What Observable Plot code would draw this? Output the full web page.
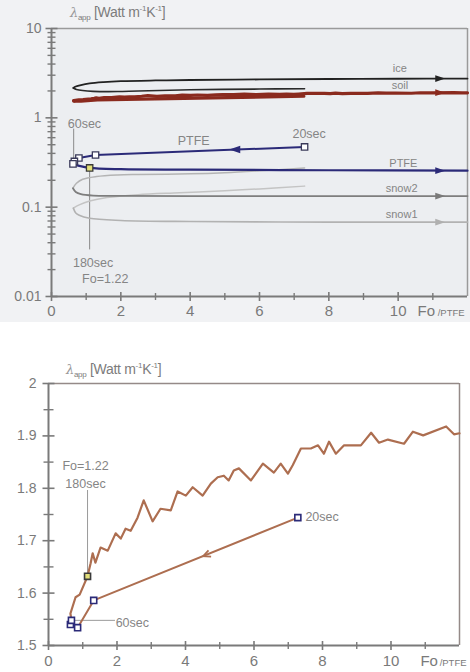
<!DOCTYPE html>
<html>
<head>
<meta charset="utf-8">
<script src="https://cdn.jsdelivr.net/npm/d3@7"></script>
<script src="https://cdn.jsdelivr.net/npm/@observablehq/plot@0.6"></script>
<style>
  body { margin: 0; background: #ffffff; font-family: "Liberation Sans", Arial, sans-serif; }
  #wrap { position: relative; width: 470px; height: 672px; overflow: hidden; background: #ffffff; }
  #top { position: absolute; left: 0; top: 0; }
  #bot { position: absolute; left: 0; top: 330px; }
  .ylab { position: absolute; font-size: 14px; color: #7c7c7c; white-space: nowrap; letter-spacing: -0.3px; }
  .ylab i { font-family: "DejaVu Serif", serif; font-size: 13px; color: #999; }
  .ylab sub { font-size: 8px; vertical-align: -3px; }
  .ylab sup { font-size: 8px; vertical-align: 6px; }
</style>
</head>
<body>
<div id="wrap">
  <div id="top"></div>
  <div id="bot"></div>
  <div class="ylab" style="left:70px; top:4px;"><i>λ</i><sub>app</sub> [Watt m<sup>-1</sup>K<sup>-1</sup>]</div>
  <div class="ylab" style="left:66px; top:361px;"><i>λ</i><sub>app</sub> [Watt m<sup>-1</sup>K<sup>-1</sup>]</div>
</div>
<script>
// ---------------- data ----------------
// soil (both panels): 20 s branch (towards smaller Fo) and 60 s branch (onwards)
const soil20 = [[7.28,1.744],[1.32,1.586],[0.85,1.534],[0.64,1.540],[0.67,1.548]];
const soil60 = [[0.67,1.548],[0.64,1.561],[0.79,1.592],[0.91,1.597],[1.14,1.632],[1.23,1.657],[1.29,1.676],[1.37,1.658],[1.52,1.687],[1.73,1.681],[1.96,1.714],[2.11,1.704],[2.25,1.723],[2.40,1.719],[2.60,1.744],[2.78,1.777],[3.04,1.737],[3.27,1.761],[3.57,1.758],[3.77,1.794],[4.01,1.786],[4.21,1.802],[4.50,1.786],[4.74,1.809],[4.94,1.821],[5.12,1.824],[5.26,1.815],[5.41,1.834],[5.56,1.838],[5.91,1.815],[6.26,1.847],[6.58,1.830],[6.78,1.847],[6.99,1.828],[7.13,1.844],[7.37,1.876],[7.66,1.876],[7.87,1.882],[8.04,1.866],[8.19,1.889],[8.39,1.866],[8.63,1.882],[9.12,1.882],[9.42,1.906],[9.65,1.887],[9.91,1.893],[10.38,1.885],[10.64,1.908],[10.94,1.901],[11.61,1.918],[11.84,1.903],[12.0,1.905]];
const soilSquares = [[7.28,1.744],[1.32,1.586],[0.85,1.534],[0.64,1.540],[0.67,1.548]];
const soil180 = [[1.14,1.632]];

// ice
const ice20 = [[7.3,2.12],[6,2.10],[4,2.06],[2.5,2.00],[1.9,1.97],[1.2,1.98],[0.9,2.02],[0.72,2.08],[0.63,2.16]];
const ice60 = [[0.63,2.16],[0.7,2.24],[0.85,2.33],[1.1,2.43],[1.5,2.51],[2,2.57],[3,2.62],[4,2.65],[6,2.69],[8,2.72],[10,2.74],[12,2.75]];
// PTFE
const ptfe20 = [[7.3,0.472],[1.27,0.384],[0.79,0.355],[0.66,0.325],[0.62,0.305]];
const ptfe60 = [[0.62,0.305],[0.8,0.29],[1.1,0.275],[2,0.266],[4,0.263],[8,0.259],[12,0.256]];
const ptfeSquares = [[7.3,0.472],[1.27,0.384],[0.79,0.355],[0.66,0.325],[0.62,0.305]];
const ptfe180 = [[1.1,0.275]];
// snow2
const snow2_20 = [[7.3,0.275],[6,0.255],[5,0.243],[4,0.236],[2.5,0.232],[1.9,0.229],[1.3,0.22],[0.9,0.205],[0.72,0.185],[0.62,0.163]];
const snow2_60 = [[0.62,0.163],[0.7,0.148],[0.85,0.140],[1.2,0.135],[2,0.134],[4,0.133],[8,0.133],[12,0.133]];
// snow1
const snow1_20 = [[7.3,0.172],[6,0.160],[5,0.153],[3.7,0.145],[2.5,0.138],[1.6,0.128],[1.1,0.117],[0.8,0.106],[0.63,0.0975]];
const snow1_60 = [[0.63,0.0975],[0.7,0.086],[0.8,0.081],[1.1,0.075],[2,0.071],[4,0.069],[8,0.068],[12,0.068]];

// arrows (Fo, value, colour)
const topArrowsRight = [[11.2,2.75,"#222222"],[11.2,1.91,"#8a2a1e"],[11.2,0.256,"#2b2a78"],[11.2,0.133,"#7a7a7a"],[11.2,0.068,"#b0b0b0"]];
const topArrowsLeft = [[5.3,0.443,"#2b2a78"]];
const botArrows = [[4.65,1.674]];

// ticks
const xMajor = [0,2,4,6,8,10];
const xMajorLabels = ["0","2","4","6","8","10"];
const xMinor = [1,3,5,7,9,11];
const yTopMajor = [0.01,0.1,1,10];
const yTopLabels = ["0.01","0.1","1","10"];
const yTopMinor = [];
for (const dec of [0.01,0.1,1]) for (let k = 2; k <= 9; k++) yTopMinor.push(dec*k);
const yBotMajor = [1.5,1.6,1.7,1.8,1.9,2];
const yBotLabels = ["1.5","1.6","1.7","1.8","1.9","2"];
const yBotMinor = [1.55,1.65,1.75,1.85,1.95];

// text annotations
const topLabelText = ["ice","soil","PTFE","snow2","snow1"];
const topLabelFo = [10.05,10.05,10.15,10.1,10.1];
const topLabelVal = [3.55,2.29,0.312,0.163,0.0834];
const topNotesMid = ["60sec","PTFE","180sec","Fo=1.22"];
const topNotesMidFo = [0.95,4.1,1.2,1.55];
const topNotesMidVal = [0.856,0.552,0.0235,0.0159];
const topNotesStart = ["20sec"];
const topNotesStartFo = [6.95];
const topNotesStartVal = [0.66];
const botNotesMid = ["Fo=1.22","180sec"];
const botNotesMidFo = [1.08,1.08];
const botNotesMidVal = [1.842,1.808];
const botNotesStart = ["60sec","20sec"];
const botNotesStartFo = [1.96,7.5];
const botNotesStartVal = [1.542,1.746];

// ---------------- helpers ----------------
const hTick = {draw(ctx, size) { const r = Math.sqrt(size / Math.PI); ctx.moveTo(-r, 0); ctx.lineTo(r, 0); }};
const vTick = {draw(ctx, size) { const r = Math.sqrt(size / Math.PI); ctx.moveTo(0, -r); ctx.lineTo(0, r); }};
const arrowR = {draw(ctx, size) { const r = Math.sqrt(size / Math.PI); ctx.moveTo(r*1.2, 0); ctx.lineTo(-r, -r*0.75); ctx.lineTo(-r, r*0.75); ctx.closePath(); }};
const arrowL = {draw(ctx, size) { const r = Math.sqrt(size / Math.PI); ctx.moveTo(-r*1.2, 0); ctx.lineTo(r, -r*0.75); ctx.lineTo(r, r*0.75); ctx.closePath(); }};
const chevronDL = {draw(ctx, size) {
  const r = Math.sqrt(size / Math.PI);
  const a = (180 - 22) * Math.PI / 180;
  const tx = Math.cos(a) * r, ty = Math.sin(a) * r;
  const back = (ang) => [tx - r*1.6*Math.cos(a + ang), ty - r*1.6*Math.sin(a + ang)];
  const [ax, ay] = back(0.45), [bx, by] = back(-0.45);
  ctx.moveTo(ax, ay); ctx.lineTo(tx, ty); ctx.lineTo(bx, by);
}};
const X = d => d[0], Y = d => d[1];
const AX = "#7a7a7a";
const TXT = "#858585";

// ---------------- top panel ----------------
const topPlot = Plot.plot({
  width: 470, height: 322,
  marginLeft: 51, marginRight: 3, marginTop: 28, marginBottom: 26,
  x: {domain: [0, 12], axis: null},
  y: {type: "log", domain: [0.01, 10], axis: null},
  style: {background: "#f1f2f4", fontFamily: "Liberation Sans, Arial, sans-serif", overflow: "visible"},
  marks: [
    Plot.frame({fill: "#eceef1", stroke: "none"}),
    Plot.ruleY([10], {stroke: "#9a9a9a", strokeWidth: 1.5}),
    Plot.ruleX([12], {stroke: "#9a9a9a", strokeWidth: 1.5}),
    // annotation leader lines
    Plot.line([[0.64, 0.75], [0.64, 0.33]], {x: X, y: Y, stroke: "#8a8a8a", strokeWidth: 1}),
    Plot.line([[1.1, 0.275], [1.1, 0.034]], {x: X, y: Y, stroke: "#8a8a8a", strokeWidth: 1}),
    // snow1
    Plot.line(snow1_20, {x: X, y: Y, stroke: "#c4c4c4", strokeWidth: 1.5, curve: "catmull-rom"}),
    Plot.line(snow1_60, {x: X, y: Y, stroke: "#b2b2b2", strokeWidth: 1.6, curve: "catmull-rom"}),
    // snow2
    Plot.line(snow2_20, {x: X, y: Y, stroke: "#b4b4b4", strokeWidth: 1.5, curve: "catmull-rom"}),
    Plot.line(snow2_60, {x: X, y: Y, stroke: "#7e7e7e", strokeWidth: 1.8, curve: "catmull-rom"}),
    // soil
    Plot.line(soil20, {x: X, y: Y, stroke: "#8a2a1e", strokeWidth: 3.2}),
    Plot.line(soil60, {x: X, y: Y, stroke: "#8a2a1e", strokeWidth: 3.2}),
    // ice
    Plot.line(ice20, {x: X, y: Y, stroke: "#2a2a2a", strokeWidth: 1.6, curve: "catmull-rom"}),
    Plot.line(ice60, {x: X, y: Y, stroke: "#222222", strokeWidth: 1.8, curve: "catmull-rom"}),
    // PTFE
    Plot.line(ptfe20, {x: X, y: Y, stroke: "#2b2a78", strokeWidth: 2}),
    Plot.line(ptfe60, {x: X, y: Y, stroke: "#2b2a78", strokeWidth: 2.2, curve: "catmull-rom"}),
    Plot.dot(ptfeSquares, {x: X, y: Y, symbol: "square", r: 3.6, fill: "#ffffff", stroke: "#3a3a5a", strokeWidth: 1.3}),
    Plot.dot(ptfe180, {x: X, y: Y, symbol: "square", r: 3.6, fill: "#e2df7a", stroke: "#3a3a3a", strokeWidth: 1.3}),
    // arrows
    Plot.dot(topArrowsRight, {x: X, y: Y, symbol: arrowR, r: 4.5, fill: d => d[2], stroke: "none"}),
    Plot.dot(topArrowsLeft, {x: X, y: Y, symbol: arrowL, r: 5, fill: d => d[2], stroke: "none"}),
    // axes
    Plot.ruleX([0], {stroke: AX, strokeWidth: 2}),
    Plot.ruleY([0.01], {stroke: AX, strokeWidth: 2}),
    Plot.dot(yTopMinor, {x: () => 0, y: d => d, symbol: hTick, r: 4, stroke: AX, strokeWidth: 1.4}),
    Plot.dot(yTopMajor, {x: () => 0, y: d => d, symbol: hTick, r: 6, stroke: AX, strokeWidth: 1.6}),
    Plot.text(yTopMajor, {x: () => 0, y: d => d, text: (d, i) => yTopLabels[i], dx: -10, textAnchor: "end", fill: "#7a7a7a", fontSize: 14}),
    Plot.dot(xMinor, {x: d => d, y: () => 0.01, symbol: vTick, r: 3.5, stroke: AX, strokeWidth: 1.4}),
    Plot.dot(xMajor, {x: d => d, y: () => 0.01, symbol: vTick, r: 4.5, stroke: AX, strokeWidth: 1.6}),
    Plot.text(xMajor, {x: d => d, y: () => 0.01, text: (d, i) => xMajorLabels[i], dy: 15, fill: "#7a7a7a", fontSize: 15}),
    Plot.text(["Fo"], {x: () => 10.56, y: () => 0.01, text: d => d, dy: 15, textAnchor: "start", fill: "#7a7a7a", fontSize: 15}),
    Plot.text(["/PTFE"], {x: () => 11.14, y: () => 0.01, text: d => d, dy: 16, textAnchor: "start", fill: "#7a7a7a", fontSize: 9.5}),
    // labels
    Plot.text(topLabelText, {x: (d, i) => topLabelFo[i], y: (d, i) => topLabelVal[i], text: d => d, fill: TXT, fontSize: 11}),
    Plot.text(topNotesMid, {x: (d, i) => topNotesMidFo[i], y: (d, i) => topNotesMidVal[i], text: d => d, textAnchor: "middle", fill: TXT, fontSize: 12.5}),
    Plot.text(topNotesStart, {x: (d, i) => topNotesStartFo[i], y: (d, i) => topNotesStartVal[i], text: d => d, textAnchor: "start", fill: TXT, fontSize: 12.5})
  ]
});
document.getElementById("top").appendChild(topPlot);

// ---------------- bottom panel ----------------
const botPlot = Plot.plot({
  width: 470, height: 342,
  marginLeft: 48, marginRight: 11, marginTop: 53, marginBottom: 27,
  x: {domain: [0, 12], axis: null},
  y: {domain: [1.5, 2], axis: null},
  style: {background: "#ffffff", fontFamily: "Liberation Sans, Arial, sans-serif", overflow: "visible"},
  marks: [
    Plot.ruleY([2], {stroke: "#958a88", strokeWidth: 1.5}),
    Plot.ruleX([12], {stroke: "#958a88", strokeWidth: 1.5}),
    // leaders
    Plot.line([[1.14, 1.632], [1.14, 1.796]], {x: X, y: Y, stroke: "#9a9a9a", strokeWidth: 1}),
    Plot.line([[0.72, 1.548], [1.93, 1.548]], {x: X, y: Y, stroke: "#9a9a9a", strokeWidth: 1}),
    Plot.line(soil20, {x: X, y: Y, stroke: "#ad6e50", strokeWidth: 2}),
    Plot.line(soil60, {x: X, y: Y, stroke: "#ad6e50", strokeWidth: 2.2}),
    Plot.dot(botArrows, {x: X, y: Y, symbol: chevronDL, r: 5, stroke: "#ad6e50", strokeWidth: 1.8, fill: "none"}),
    Plot.dot(soilSquares, {x: X, y: Y, symbol: "square", r: 3.4, fill: "#ffffff", stroke: "#2b2a78", strokeWidth: 1.6}),
    Plot.dot(soil180, {x: X, y: Y, symbol: "square", r: 3.4, fill: "#e2df7a", stroke: "#3a3a3a", strokeWidth: 1.6}),
    // axes
    Plot.ruleX([0], {stroke: AX, strokeWidth: 2}),
    Plot.ruleY([1.5], {stroke: AX, strokeWidth: 2}),
    Plot.dot(yBotMinor, {x: () => 0, y: d => d, symbol: hTick, r: 5, stroke: AX, strokeWidth: 1.4}),
    Plot.dot(yBotMajor, {x: () => 0, y: d => d, symbol: hTick, r: 6, stroke: AX, strokeWidth: 1.6}),
    Plot.text(yBotMajor, {x: () => 0, y: d => d, text: (d, i) => yBotLabels[i], dx: -12, textAnchor: "end", fill: "#7a7a7a", fontSize: 14}),
    Plot.dot(xMinor, {x: d => d, y: () => 1.5, symbol: vTick, r: 3.5, stroke: AX, strokeWidth: 1.4}),
    Plot.dot(xMajor, {x: d => d, y: () => 1.5, symbol: vTick, r: 4.5, stroke: AX, strokeWidth: 1.6}),
    Plot.text(xMajor, {x: d => d, y: () => 1.5, text: (d, i) => xMajorLabels[i], dy: 16, fill: "#7a7a7a", fontSize: 15}),
    Plot.text(["Fo"], {x: () => 10.86, y: () => 1.5, text: d => d, dy: 16, textAnchor: "start", fill: "#7a7a7a", fontSize: 15}),
    Plot.text(["/PTFE"], {x: () => 11.42, y: () => 1.5, text: d => d, dy: 17, textAnchor: "start", fill: "#7a7a7a", fontSize: 9.5}),
    Plot.text(botNotesMid, {x: (d, i) => botNotesMidFo[i], y: (d, i) => botNotesMidVal[i], text: d => d, textAnchor: "middle", fill: TXT, fontSize: 12.5}),
    Plot.text(botNotesStart, {x: (d, i) => botNotesStartFo[i], y: (d, i) => botNotesStartVal[i], text: d => d, textAnchor: "start", fill: TXT, fontSize: 12.5})
  ]
});
document.getElementById("bot").appendChild(botPlot);
</script>
</body>
</html>
